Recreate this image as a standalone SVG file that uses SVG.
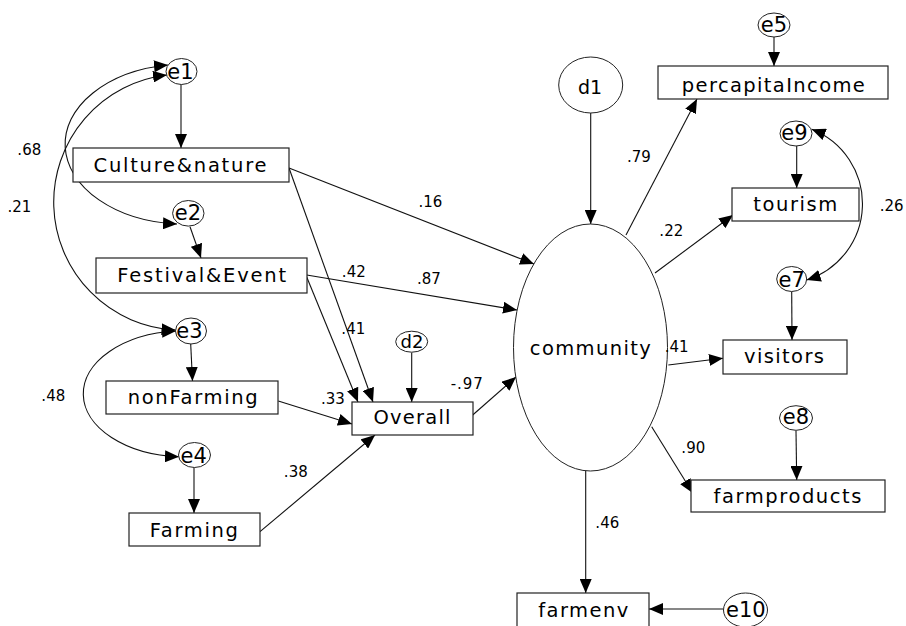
<svg xmlns="http://www.w3.org/2000/svg" width="906" height="626" viewBox="0 0 906 626">
<style>
.bg{fill:#fff}
.box{fill:#fff;stroke:#222;stroke-width:1.2}
.el{fill:#fff;stroke:#222;stroke-width:1}
.ln{fill:none;stroke:#111;stroke-width:1.1;marker-end:url(#ah)}
.cov{fill:none;stroke:#111;stroke-width:1.1;marker-start:url(#ah);marker-end:url(#ah)}
text{font-family:"DejaVu Sans","Liberation Sans",sans-serif;fill:#000;text-anchor:middle}
.t{font-size:19.5px}
.e{font-size:21px}
.d{font-size:19px}
.w{font-size:15px}
</style>
<defs>
<marker id="ah" viewBox="0 0 14 12" markerWidth="14" markerHeight="12" refX="14" refY="6" orient="auto-start-reverse" markerUnits="userSpaceOnUse">
<path d="M0,0 L14,6 L0,12 z" fill="#000"/>
</marker>
</defs>
<rect class="bg" x="0" y="0" width="906" height="626"/>

<g id="connectors">
<path class="cov" d="M168,65 A120,80 0 0 0 177,224"/>
<path class="cov" d="M167,75 A128,128 0 0 0 175.5,330"/>
<path class="cov" d="M176,331 A101,63 0 0 0 179,456.7"/>
<path class="cov" d="M811.7,129.3 A80,80 0 0 1 806.7,280"/>
<line class="ln" x1="181" y1="84.3" x2="181" y2="148"/>
<line class="ln" x1="190" y1="226.7" x2="201" y2="258"/>
<line class="ln" x1="190.7" y1="344" x2="192.5" y2="381"/>
<line class="ln" x1="194" y1="467.3" x2="194" y2="513"/>
<line class="ln" x1="289" y1="168" x2="534" y2="264"/>
<line class="ln" x1="289" y1="168" x2="373" y2="402"/>
<line class="ln" x1="306.7" y1="275" x2="517" y2="310"/>
<line class="ln" x1="306.7" y1="277" x2="358" y2="402"/>
<line class="ln" x1="278.3" y1="401" x2="352" y2="424"/>
<line class="ln" x1="260" y1="531.7" x2="375" y2="435"/>
<line class="ln" x1="411.7" y1="352.5" x2="411.7" y2="402"/>
<line class="ln" x1="472.7" y1="415" x2="516" y2="377"/>
<line class="ln" x1="590.7" y1="113" x2="590.7" y2="224"/>
<line class="ln" x1="626" y1="235" x2="697" y2="99"/>
<line class="ln" x1="655" y1="273" x2="733" y2="215"/>
<line class="ln" x1="668.3" y1="365" x2="723" y2="358.3"/>
<line class="ln" x1="651.7" y1="426.7" x2="692.7" y2="493"/>
<line class="ln" x1="585.7" y1="471" x2="585.7" y2="593"/>
<line class="ln" x1="723.3" y1="609" x2="649" y2="609"/>
<line class="ln" x1="774" y1="37" x2="774" y2="66"/>
<line class="ln" x1="796.7" y1="146" x2="796.7" y2="188"/>
<line class="ln" x1="791.7" y1="291.7" x2="792" y2="340"/>
<line class="ln" x1="796" y1="430.7" x2="796.7" y2="480"/>
</g>

<g id="e1"><ellipse class="el" cx="181.5" cy="71.5" rx="15.5" ry="13"/><text class="e" x="180.5" y="79">e1</text></g>
<g id="e2"><ellipse class="el" cx="188.3" cy="213.3" rx="15.7" ry="12.8"/><text class="e" x="188" y="220">e2</text></g>
<g id="e3"><ellipse class="el" cx="191" cy="331" rx="15.5" ry="13"/><text class="e" x="189.5" y="338.3">e3</text></g>
<g id="e4"><ellipse class="el" cx="194.5" cy="455" rx="16" ry="12.5"/><text class="e" x="193.7" y="462.7">e4</text></g>
<g id="e5"><ellipse class="el" cx="774" cy="25" rx="16" ry="12"/><text class="e" x="774" y="31.7">e5</text></g>
<g id="e9"><ellipse class="el" cx="796" cy="133.5" rx="16" ry="12.5"/><text class="e" x="794.5" y="140">e9</text></g>
<g id="e7"><ellipse class="el" cx="791.7" cy="279" rx="15" ry="12.5"/><text class="e" x="791.7" y="286.7">e7</text></g>
<g id="e8"><ellipse class="el" cx="796" cy="418" rx="16.5" ry="12.3"/><text class="e" x="796" y="424.3">e8</text></g>
<g id="e10"><ellipse class="el" cx="745.5" cy="610" rx="22" ry="17"/><text class="e" x="745.8" y="616.7">e10</text></g>
<g id="d1"><ellipse class="el" cx="590.7" cy="85" rx="32" ry="28"/><text class="d" x="590" y="94">d1</text></g>
<g id="d2"><ellipse class="el" cx="411.7" cy="341.7" rx="16" ry="10.5"/><text class="d" x="412" y="347.5" style="font-size:18px">d2</text></g>

<g id="community"><ellipse class="el" cx="590.5" cy="347.5" rx="77" ry="123.5"/><text class="t" x="590.3" y="355" textLength="121">community</text></g>

<g id="culture"><rect class="box" x="73" y="148" width="216" height="34"/><text class="t" x="180" y="171.7" textLength="173">Culture&amp;nature</text></g>
<g id="festival"><rect class="box" x="96" y="258" width="211" height="35"/><text class="t" x="201.7" y="282.3" textLength="169">Festival&amp;Event</text></g>
<g id="nonFarming"><rect class="box" x="106" y="381" width="172" height="33"/><text class="t" x="192.7" y="404" textLength="130">nonFarming</text></g>
<g id="farming"><rect class="box" x="129" y="513" width="131" height="33"/><text class="t" x="193.8" y="536.6" textLength="88">Farming</text></g>
<g id="overall"><rect class="box" x="352" y="402" width="121" height="33"/><text class="t" x="412" y="424.3" textLength="77">Overall</text></g>
<g id="percapitaIncome"><rect class="box" x="658" y="66" width="230" height="33"/><text class="t" x="773.3" y="91.7" textLength="183">percapitaIncome</text></g>
<g id="tourism"><rect class="box" x="732" y="188" width="127" height="33"/><text class="t" x="795.3" y="210.7" textLength="84">tourism</text></g>
<g id="visitors"><rect class="box" x="723" y="340" width="124" height="34"/><text class="t" x="784" y="363.3" textLength="80">visitors</text></g>
<g id="farmproducts"><rect class="box" x="691" y="480" width="194" height="32"/><text class="t" x="787.5" y="502.7" textLength="148">farmproducts</text></g>
<g id="farmenv"><rect class="box" x="517" y="593" width="132" height="40"/><text class="t" x="583.3" y="616.7" textLength="90">farmenv</text></g>

<g id="labels">
<text class="w" x="29.3" y="155">.68</text>
<text class="w" x="19.5" y="212.3">.21</text>
<text class="w" x="53.3" y="400.7">.48</text>
<text class="w" x="430.5" y="206.7">.16</text>
<text class="w" x="353.8" y="276.7">.42</text>
<text class="w" x="429" y="284.3">.87</text>
<text class="w" x="353.3" y="334.3">.41</text>
<text class="w" x="333" y="404">.33</text>
<text class="w" x="466.7" y="389" textLength="32">-.97</text>
<text class="w" x="295.8" y="476.7">.38</text>
<text class="w" x="639" y="161.7">.79</text>
<text class="w" x="671.3" y="236">.22</text>
<text class="w" x="891.7" y="211">.26</text>
<text class="w" x="676.7" y="351.7">.41</text>
<text class="w" x="693.3" y="452.7">.90</text>
<text class="w" x="607.3" y="527.7">.46</text>
</g>
</svg>
